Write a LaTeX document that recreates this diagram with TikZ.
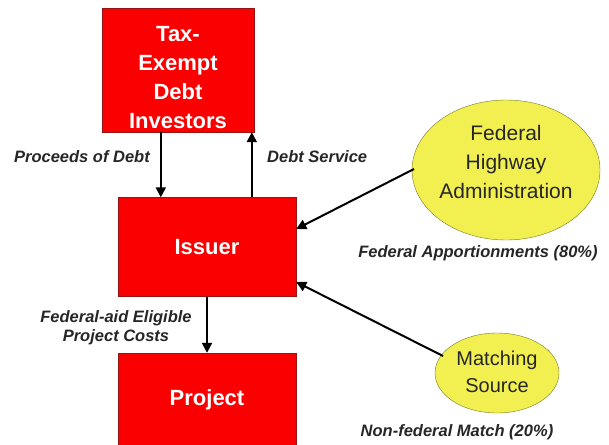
\documentclass[tikz,border=0pt]{standalone}
\usepackage{fontspec}
\setmainfont{Liberation Sans}
\usepackage{xcolor}
\usetikzlibrary{arrows.meta}
\usetikzlibrary{calc}
\definecolor{boxred}{RGB}{250,0,0}
\definecolor{boxedge}{RGB}{150,20,20}
\definecolor{ovalfill}{RGB}{242,240,80}
\definecolor{ovaledge}{RGB}{120,120,40}

\begin{document}
\begin{tikzpicture}[x=1pt, y=-1pt,
	party/.style={rectangle, draw=boxedge, fill=boxred, text=white, font=\fontsize{22}{29}\selectfont\bfseries, align=center, inner sep=0pt},
	flow/.style={-{Triangle[length=10pt, width=10pt]}, line width=2pt, black},
	lbl/.style={font=\fontsize{16.5}{19}\selectfont\bfseries\itshape, text=black!85, inner sep=0pt}]
	\useasboundingbox (0,0) rectangle (609,444);

	% boxes
	\node[party, minimum width=152pt, minimum height=124pt](investors) at (178,70){\rule{0pt}{30pt}Tax-\\Exempt\\Debt\\Investors};
	\node[party, minimum width=178pt, minimum height=99pt](issuer) at (207,247){Issuer};
	\node[party, minimum width=178pt, minimum height=94pt](project) at (207,400){Project};

	% sources
	\draw[draw=ovaledge, fill=ovalfill] (506,170) ellipse (94pt and 70pt);
	\node[font=\fontsize{21}{29}\selectfont, align=center, text=black!85](fhwa) at (506,162){Federal\\Highway\\Administration};
	\coordinate (fhwaW) at (414,169);
	\draw[draw=ovaledge, fill=ovalfill] (497,373) ellipse (62pt and 40pt);
	\node[font=\fontsize{20}{27}\selectfont, align=center, text=black!85](match) at (497,372){Matching\\Source};
	\coordinate (matchW) at (443,356);

	% flows
	\draw[flow] ($(investors.south west)+(59,0)$) -- ($(issuer.north west)+(43,0)$);
	\draw[flow] ($(issuer.north west)+(134,0)$) -- ($(investors.south west)+(150,0)$);
	\draw[flow] (issuer.south) -- (project.north);
	\draw[flow] (fhwaW) -- ($(issuer.east)+(0,-18)$);
	\draw[flow] (matchW) -- ($(issuer.east)+(0,35)$);

	% labels
	\node[lbl, anchor=east](proceeds) at (150,157){Proceeds of Debt};
	\node[lbl, anchor=west](service) at (267,157){Debt Service};
	\node[lbl, align=center](costs) at (116,328){Federal-aid Eligible\\Project Costs};
	\node[lbl](apport) at (478,253){Federal Apportionments (80\%)};
	\node[lbl](nonfed) at (457,432){Non-federal Match (20\%)};
\end{tikzpicture}
\end{document}
